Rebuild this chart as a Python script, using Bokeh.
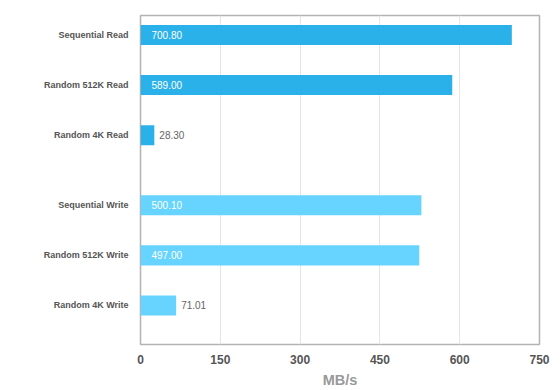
from bokeh.plotting import figure
from bokeh.models import Range1d, FixedTicker, ColumnDataSource
from bokeh.core.properties import value
from bokeh.embed import file_html
from bokeh.resources import INLINE

# ---- data ----
categories = ["Sequential Read", "Random 512K Read", "Random 4K Read",
              "Sequential Write", "Random 512K Write", "Random 4K Write"]
groups = ["read", "read", "read", "write", "write", "write"]
label_values = [700.80, 589.00, 28.30, 500.10, 497.00, 71.01]
bar_lengths = [698, 586, 26, 528, 524, 67]   # bar lengths as drawn in the picture
x_ticks = [0, 150, 300, 450, 600, 750]

colors = {"read": "#2ab1e9", "write": "#66d4ff"}
FONT = "Liberation Sans"

# row layout: 5 units per row, extra 2 units between groups
ypos = []
for i, g in enumerate(groups):
    ypos.append(i * 5 + (2 if g == "write" else 0))

inside = [b > 100 for b in bar_lengths]
labels = ["%.2f" % v for v in label_values]

src = ColumnDataSource(dict(
    y=ypos, right=bar_lengths, color=[colors[g] for g in groups],
    label=labels,
    lx=[0 if ins else b for ins, b in zip(inside, bar_lengths)],
    loff=[11 if ins else 5 for ins in inside],
    lcol=["#ffffff" if ins else "#666666" for ins in inside],
))

p = figure(width=560, height=390, output_backend="svg", toolbar_location=None,
           x_range=Range1d(0, 750), y_range=Range1d(ypos[-1] + 3.9, -1.95),
           min_border_left=140, min_border_right=21, min_border_top=15,
           min_border_bottom=46)

p.hbar(y="y", left=0, right="right", height=2, color="color", line_color=None, source=src)
p.text(x="lx", y="y", text="label", x_offset="loff", text_color="lcol",
       text_font=value(FONT), text_font_size="10px", text_baseline="middle",
       text_align="left", source=src)

p.outline_line_color = "#b3b3b3"
p.outline_line_width = 1.5
p.background_fill_color = "white"
p.border_fill_color = "white"

# x axis
xa = p.xaxis[0]
xa.ticker = FixedTicker(ticks=x_ticks)
xa.axis_line_color = None
xa.major_tick_line_color = None
xa.minor_tick_line_color = None
xa.major_label_text_font = FONT
xa.major_label_text_font_size = "12px"
xa.major_label_text_font_style = "bold"
xa.major_label_text_color = "#555555"
xa.major_label_standoff = 4
xa.axis_label = "MB/s"
xa.axis_label_text_font = FONT
xa.axis_label_text_font_size = "14.5px"
xa.axis_label_text_font_style = "bold"
xa.axis_label_text_color = "#999999"
xa.axis_label_standoff = 5

# y axis
ya = p.yaxis[0]
ya.ticker = FixedTicker(ticks=ypos)
ya.major_label_overrides = {y: c for y, c in zip(ypos, categories)}
ya.axis_line_color = None
ya.major_tick_line_color = None
ya.minor_tick_line_color = None
ya.major_label_text_font = FONT
ya.major_label_text_font_size = "9px"
ya.major_label_text_font_style = "bold"
ya.major_label_text_color = "#555555"
ya.major_label_standoff = 6

p.ygrid.grid_line_color = None
p.xgrid.grid_line_color = "#e6e6e6"
p.xgrid.grid_line_width = 1

open("out.html", "w").write(file_html(p, INLINE))
